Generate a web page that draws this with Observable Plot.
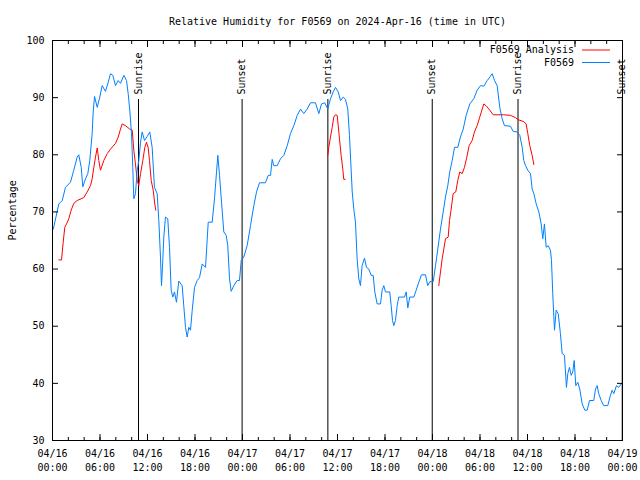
<!DOCTYPE html>
<html><head><meta charset="utf-8">
<script src="https://cdn.jsdelivr.net/npm/d3@7"></script>
<script src="https://cdn.jsdelivr.net/npm/@observablehq/plot@0.6"></script>
<style>body{margin:0;background:#fff} svg{display:block}</style>
</head><body><div id="chart"></div>
<script>
const title = "Relative Humidity for F0569 on 2024-Apr-16 (time in UTC)";
const yLabel = "Percentage";
const seriesNames = ["F0569 Analysis", "F0569"];
const seriesColors = ["#ff0000", "#0080ff"];
const startTime = "2024-04-16T00:00Z";
const endTime = "2024-04-19T00:00Z";

// F0569 observations: hours after 2024-04-16 00:00 UTC, and relative humidity (%)
const blueHours = [0.1,0.8,1.23,1.64,2.27,2.69,3.12,3.32,3.63,3.83,4.17,4.46,4.71,5.01,5.14,5.31,5.65,5.97,6.28,6.69,6.98,7.33,7.62,7.96,8.30,8.59,9.01,9.35,9.56,9.76,9.98,10.14,10.27,10.48,10.70,10.90,11.12,11.33,11.62,11.96,12.29,12.59,12.88,13.22,13.43,13.64,13.77,13.89,14.06,14.27,14.56,14.78,14.99,15.20,15.41,15.66,15.95,16.38,16.58,16.80,17.01,17.22,17.43,17.65,17.94,18.28,18.57,18.91,19.33,19.67,20.17,20.46,20.72,20.88,21.10,21.35,21.64,21.94,22.14,22.36,22.57,22.90,23.33,23.62,23.84,24.16,24.59,25.01,25.43,25.77,26.15,26.90,27.25,27.54,27.75,27.95,28.38,28.80,29.22,29.65,30.06,30.48,30.91,31.33,31.74,32.17,32.59,33.22,33.64,33.98,34.39,34.77,35.11,35.46,35.75,36.09,36.38,36.72,37.01,37.30,37.51,37.86,38.06,38.27,38.48,38.69,38.90,39.11,39.41,39.66,39.95,40.26,40.51,40.71,41.01,41.43,41.64,41.85,42.06,42.60,42.78,42.95,43.11,43.32,43.54,43.74,44.46,44.68,44.88,45.13,45.64,45.94,46.27,46.61,47.11,47.40,47.66,48.09,48.38,48.67,49.01,49.35,49.64,49.93,50.18,50.49,50.78,51.19,51.53,51.88,52.25,52.71,53.21,53.64,54.06,54.48,54.91,55.24,55.54,55.83,56.17,56.50,56.80,57.09,57.85,58.19,58.70,59.03,59.33,59.53,59.75,60.04,60.38,60.59,60.80,61.10,61.43,61.73,61.93,62.14,62.36,62.61,62.90,63.03,63.19,63.41,63.62,63.88,64.16,64.38,64.67,64.92,65.09,65.30,65.52,65.72,65.90,66.10,66.35,66.60,66.91,67.24,67.54,67.83,68.37,68.59,68.80,69.00,69.31,69.63,70.14,70.48,70.69,70.90,71.24,71.52,71.83,72.0];
const blueValues = [67,71.4,72,74.3,75.2,77.3,79.6,80,77.8,74.4,75.8,76.7,79,83.7,87.5,90.2,88.3,90.1,92.1,91.1,92.4,94.2,93.9,92.1,93,92.5,93.9,93,90.7,87.8,83.7,77.8,72.3,73.2,77.3,79,82.2,84,82.5,83.2,84,81.3,74.3,73.2,68.5,62.1,57.1,60.3,65.6,69.1,68.8,63.8,56.3,55.1,56,54.2,57.9,57.1,53.6,49.8,48.1,49.8,49.3,52.8,56.8,58,58.5,60.9,60.3,68.2,68.2,72.3,77,79.9,76.4,71.7,66.5,65.9,64.1,58.3,56.1,57.1,58,58,61.5,62.1,64.1,67.6,71.1,73.5,75.1,75.1,76.4,76.4,79.2,78.1,78.1,79.3,79.9,81.6,83.7,85.1,86.9,88,87.2,88,89.1,89.1,87.2,88.9,89.1,88,89.8,91,91.8,91,89.5,90.1,89.7,88,83.4,73.5,70.5,68.2,61.8,58.3,57.1,60.6,61.9,60.3,60,58.9,58.9,56,53.9,53.9,56.3,57.1,56,56,53.6,51,50.1,51,53.6,55.1,55.1,56,53.2,55.1,55.1,56.3,57.7,59,59,57.1,57.8,57.8,60.6,63.5,67,70,72.6,74.6,77,79,81.3,81.3,83.1,84.5,86.9,88.9,89.8,91.3,92.1,92,93,93.6,94.2,93,92.1,88.3,86.3,85.1,85,84.1,84,83.4,81.3,79,78.1,77.3,76.7,74,73.2,71.4,70,67.9,65.3,67.9,63.8,64.1,63.3,61.5,55.7,49.3,52.8,52.2,48.7,45.2,44.9,39.3,41.7,42.8,41.4,42,44,39.6,40.2,39,36.4,35.3,35.3,37,37,39,39.6,38.2,37,36.1,36.1,37.9,38.8,38.2,39.6,39.3,39.9,40];

// F0569 Analysis: three runs separated by null gaps
const redHours = [0.8,1.14,1.35,1.55,1.77,2.06,2.36,2.69,3.12,3.95,4.38,4.80,5.01,5.22,5.43,5.65,5.85,6.06,6.48,6.91,7.33,7.96,8.30,8.59,8.80,9.22,9.76,10.07,10.27,10.48,10.70,10.90,11.12,11.41,11.66,11.87,12.09,12.25,12.47,12.72,12.92,13.05,
  20.0,
  34.77,34.90,35.11,35.33,35.53,35.75,35.96,36.09,36.25,36.46,36.67,36.79,36.97,
  42.0,
  48.79,49.01,49.22,49.43,49.64,49.98,50.15,50.36,50.61,50.94,51.19,51.45,51.75,52.04,52.29,52.63,53.01,53.30,53.64,53.97,54.28,54.48,54.82,55.24,55.67,57.01,57.85,58.48,58.90,59.53,59.83,60.04,60.29,60.59,60.80];
const redValues = [61.6,61.6,64.7,67.3,67.9,68.8,70.3,71.5,72,72.5,73.5,74.6,75.8,77.8,79.6,81.2,79,77.3,79,80.2,81,82,83.1,84.5,85.4,85.1,84.5,84.3,80.8,78.4,75.5,74.6,76.7,79,81.3,82.2,81.2,79,75.5,73.8,71.4,70.3,
  null,
  79.9,81.3,83.1,84.8,86.6,87,86.9,85.1,82.8,79.9,77.5,75.7,75.7,
  null,
  57.1,59.5,61.8,63.5,65.3,65.6,68.5,70.5,73.2,73.5,75.5,77,76.7,77.8,79.3,81.6,82.5,84,85.1,86.6,88,88.9,88.5,87.8,87,87,86.9,86.5,86.1,85.8,85.4,83.7,81.6,79.9,78.3];

const sunTimes = ["2024-04-16T10:52Z","2024-04-16T23:57Z","2024-04-17T10:47Z","2024-04-17T23:58Z","2024-04-18T10:48Z","2024-04-18T23:58Z"];
const sunLabels = ["Sunrise","Sunset","Sunrise","Sunset","Sunrise","Sunset"];
const yTicks = [30,40,50,60,70,80,90,100];
const xTickStepHours = 6;
const xMinorStepHours = 2;

const t0 = new Date(startTime), t1 = new Date(endTime);
const toDate = h => new Date(+t0 + h * 3600e3);
const blue = blueHours.map((h, i) => ({t: toDate(h), v: blueValues[i]}));
const red = redHours.map((h, i) => ({t: toDate(h), v: redValues[i]}));
const sun = sunTimes.map((s, i) => ({t: new Date(s), label: sunLabels[i]}));
const xMajor = d3.utcHour.every(xTickStepHours).range(t0, new Date(+t1 + 1));
const xMinor = d3.utcHour.every(xMinorStepHours).range(t0, new Date(+t1 + 1));
const fmt = d3.utcFormat("%m/%d\n%H:%M");

const legendMark = (index, scales, values, dim) => {
  const g = d3.create("svg:g");
  const xr = dim.width - dim.marginRight;
  seriesNames.forEach((name, i) => {
    const y = dim.marginTop + 10 + i * 12.5;
    g.append("text").attr("x", xr - 48).attr("y", y).attr("dy", "0.32em")
      .attr("text-anchor", "end").attr("fill", "#000").text(name);
    g.append("line").attr("x1", xr - 40).attr("x2", xr - 12).attr("y1", y).attr("y2", y)
      .attr("stroke", seriesColors[i]).attr("stroke-width", 1);
  });
  return g.node();
};

const chart = Plot.plot({
  width: 640, height: 480,
  marginLeft: 52, marginRight: 18, marginTop: 40, marginBottom: 40,
  style: {fontFamily: "'DejaVu Sans Mono', monospace", fontSize: "10px", background: "#fff", color: "#000"},
  x: {type: "utc", domain: [t0, t1]},
  y: {domain: [30, 100]},
  marks: [
    Plot.ruleX(sun, {x: "t", insetTop: 59, stroke: "#000", strokeWidth: 1}),
    Plot.text(sun, {x: "t", text: "label", frameAnchor: "top", dy: 54, dx: -4, rotate: -90, textAnchor: "start", fill: "#000"}),
    Plot.line(red, {x: "t", y: "v", stroke: seriesColors[0], strokeWidth: 1}),
    Plot.line(blue, {x: "t", y: "v", stroke: seriesColors[1], strokeWidth: 1}),
    Plot.frame({stroke: "#000"}),
    Plot.axisX({anchor: "bottom", ticks: xMinor, tickSize: 3, dy: -3, fill: "none", label: null}),
    Plot.axisX({anchor: "top", ticks: xMinor, tickSize: 3, dy: 3, fill: "none", label: null}),
    Plot.axisX({anchor: "bottom", ticks: xMajor, tickSize: 6, dy: -6, fill: "none", label: null}),
    Plot.axisX({anchor: "top", ticks: xMajor, tickSize: 6, dy: 6, fill: "none", label: null}),
    Plot.axisX({anchor: "bottom", ticks: xMajor, tickSize: 0, tickPadding: 7, tickFormat: fmt, lineHeight: 1.4, label: null}),
    Plot.axisY({anchor: "left", ticks: yTicks, tickSize: 6, dx: 6, fill: "none", label: null}),
    Plot.axisY({anchor: "right", ticks: yTicks, tickSize: 6, dx: -6, fill: "none", label: null}),
    Plot.axisY({anchor: "left", ticks: yTicks, tickSize: 0, tickPadding: 8, label: null}),
    Plot.text([title], {frameAnchor: "top", dy: -23, fill: "#000"}),
    Plot.text([yLabel], {frameAnchor: "left", dx: -40, rotate: -90, fill: "#000"}),
    legendMark
  ]
});
document.getElementById("chart").append(chart);
</script>
</body></html>
